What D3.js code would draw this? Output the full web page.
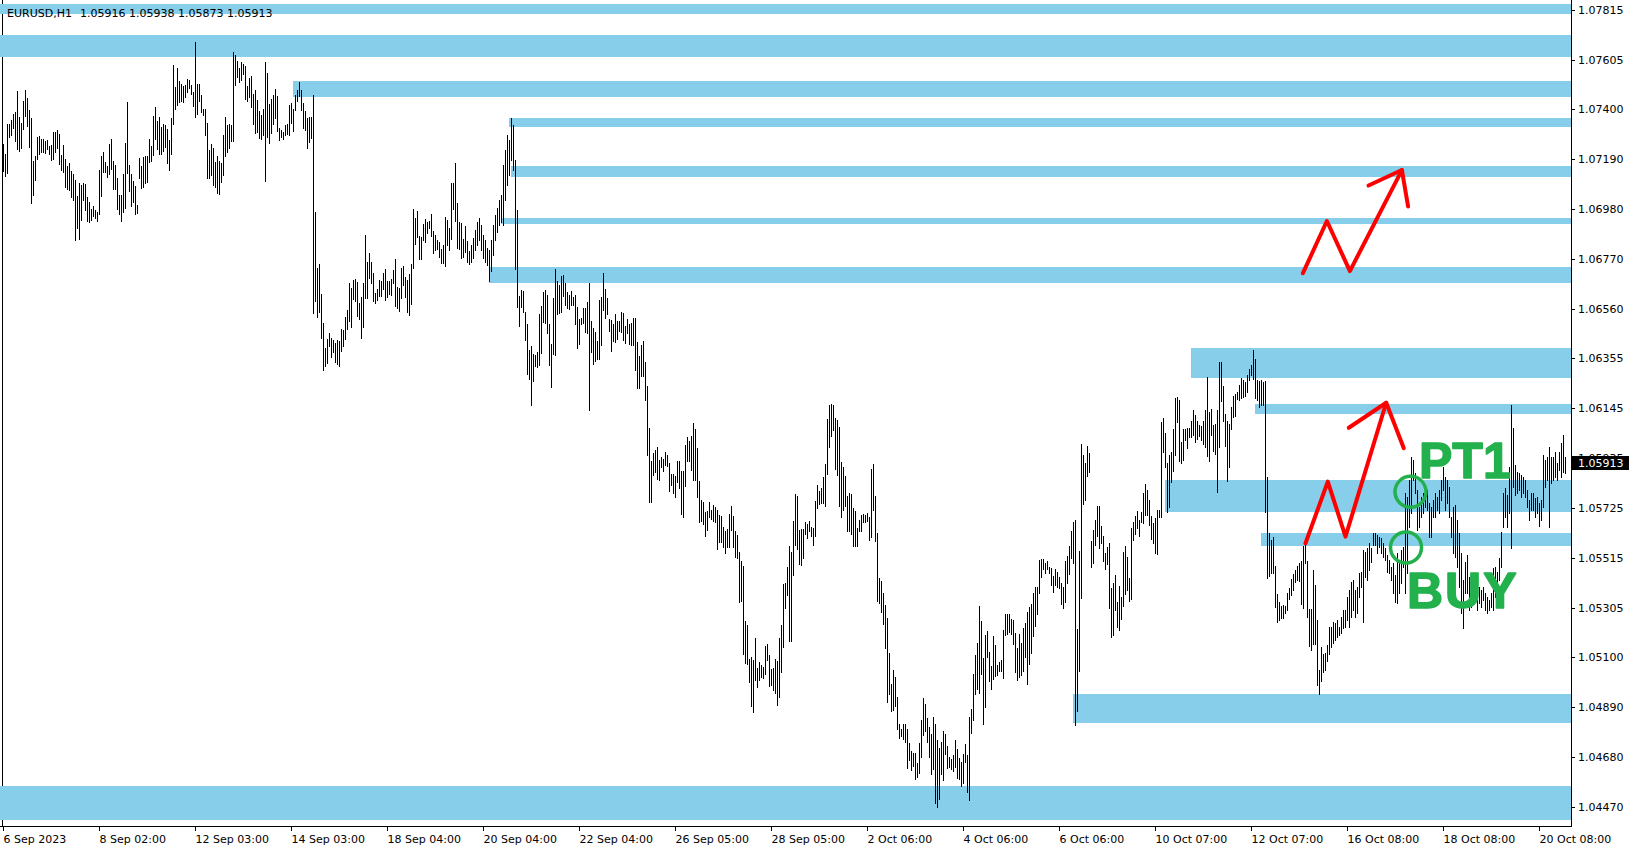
<!DOCTYPE html>
<html><head><meta charset="utf-8">
<script src="https://cdn.jsdelivr.net/npm/d3@7"></script>
<style>html,body{margin:0;padding:0;background:#fff;overflow:hidden}</style>
</head><body>
<svg id="chart" width="1635" height="850"></svg>
<script>
// ---------- data ----------
const symbol = "EURUSD,H1";
const lastOHLC = ["1.05916", "1.05938", "1.05873", "1.05913"];
const lastClose = 1.05913;

const timeLabels = ["6 Sep 2023","8 Sep 02:00","12 Sep 03:00","14 Sep 03:00","18 Sep 04:00","20 Sep 04:00","22 Sep 04:00","26 Sep 05:00","28 Sep 05:00","2 Oct 06:00","4 Oct 06:00","6 Oct 06:00","10 Oct 07:00","12 Oct 07:00","16 Oct 08:00","18 Oct 08:00","20 Oct 08:00"];
const barsPerTimeLabel = 48;
const priceLabels = ["1.07815","1.07605","1.07400","1.07190","1.06980","1.06770","1.06560","1.06355","1.06145","1.05935","1.05725","1.05515","1.05305","1.05100","1.04890","1.04680","1.04470"];

const barHigh = [
1.07252,1.07210,1.07336,1.07336,1.07353,1.07378,1.07387,1.07475,1.07366,1.07340,
1.07433,1.07479,1.07445,1.07395,1.07361,1.07181,1.07202,1.07282,1.07286,1.07273,
1.07273,1.07265,1.07269,1.07244,1.07248,1.07303,1.07303,1.07311,1.07294,1.07206,
1.07248,1.07189,1.07160,1.07172,1.07139,1.07126,1.07101,1.07034,1.07088,1.07080,
1.07088,1.07084,1.07030,1.07009,1.06979,1.06992,1.06975,1.06967,1.07143,1.07202,
1.07219,1.07177,1.07160,1.07252,1.07273,1.07181,1.07164,1.07109,1.07038,1.07038,
1.07126,1.07256,1.07429,1.07164,1.07126,1.07097,1.07076,1.06996,1.07193,1.07160,
1.07198,1.07202,1.07202,1.07273,1.07244,1.07370,1.07408,1.07349,1.07366,1.07324,
1.07336,1.07332,1.07315,1.07269,1.07361,1.07584,1.07492,1.07571,1.07517,1.07504,
1.07496,1.07500,1.07525,1.07521,1.07500,1.07471,1.07681,1.07504,1.07504,1.07458,
1.07399,1.07399,1.07340,1.07227,1.07252,1.07235,1.07177,1.07202,1.07181,1.07172,
1.07290,1.07366,1.07332,1.07336,1.07332,1.07639,1.07626,1.07601,1.07571,1.07597,
1.07588,1.07580,1.07496,1.07529,1.07538,1.07462,1.07479,1.07437,1.07391,1.07374,
1.07399,1.07597,1.07550,1.07420,1.07441,1.07458,1.07483,1.07454,1.07319,1.07311,
1.07303,1.07332,1.07336,1.07416,1.07424,1.07399,1.07458,1.07479,1.07513,1.07479,
1.07424,1.07391,1.07361,1.07366,1.07366,1.07458,1.06967,1.06731,1.06748,1.06622,
1.06500,1.06395,1.06433,1.06458,1.06437,1.06429,1.06416,1.06429,1.06425,1.06475,
1.06471,1.06526,1.06555,1.06668,1.06647,1.06681,1.06685,1.06673,1.06584,1.06610,
1.06668,1.06870,1.06757,1.06794,1.06757,1.06710,1.06626,1.06643,1.06681,1.06677,
1.06710,1.06727,1.06677,1.06677,1.06685,1.06723,1.06769,1.06652,1.06647,1.06731,
1.06740,1.06694,1.06681,1.06706,1.06748,1.06979,1.06941,1.06971,1.06866,1.06862,
1.06916,1.06937,1.06925,1.06929,1.06958,1.06887,1.06870,1.06849,1.06841,1.06811,
1.06828,1.06946,1.06933,1.06899,1.07088,1.07088,1.07172,1.07004,1.06925,1.06920,
1.06853,1.06908,1.06845,1.06803,1.06828,1.06857,1.06891,1.06925,1.06941,1.06912,
1.06870,1.06849,1.06815,1.06807,1.06849,1.06912,1.06954,1.06983,1.07017,1.07038,
1.07164,1.07227,1.07290,1.07269,1.07361,1.07332,1.07185,1.06975,1.06614,1.06639,
1.06635,1.06547,1.06496,1.06387,1.06404,1.06370,1.06366,1.06379,1.06538,1.06572,
1.06631,1.06639,1.06618,1.06496,1.06412,1.06605,1.06727,1.06677,1.06660,1.06698,
1.06702,1.06668,1.06631,1.06618,1.06635,1.06610,1.06618,1.06568,1.06517,1.06521,
1.06563,1.06563,1.06589,1.06668,1.06509,1.06479,1.06463,1.06425,1.06597,1.06610,
1.06710,1.06643,1.06605,1.06517,1.06513,1.06496,1.06538,1.06509,1.06509,1.06547,
1.06542,1.06488,1.06517,1.06496,1.06500,1.06521,1.06521,1.06421,1.06362,1.06408,
1.06425,1.06337,1.06236,1.06059,1.05921,1.05954,1.05967,1.05980,1.05925,1.05938,
1.05929,1.05959,1.05946,1.05912,1.05866,1.05866,1.05858,1.05921,1.05921,1.05879,
1.05879,1.05988,1.06022,1.06005,1.06026,1.06080,1.06055,1.05975,1.05837,1.05757,
1.05749,1.05707,1.05711,1.05749,1.05715,1.05736,1.05728,1.05715,1.05694,1.05690,
1.05644,1.05627,1.05635,1.05698,1.05732,1.05690,1.05627,1.05610,1.05539,1.05501,
1.05480,1.05249,1.05232,1.05089,1.05098,1.05085,1.05177,1.05051,1.05077,1.05064,
1.05056,1.05144,1.05152,1.05106,1.05047,1.05051,1.05089,1.05081,1.05177,1.05232,
1.05404,1.05408,1.05476,1.05564,1.05539,1.05669,1.05782,1.05774,1.05631,1.05635,
1.05635,1.05665,1.05656,1.05669,1.05644,1.05640,1.05753,1.05820,1.05795,1.05807,
1.05854,1.05908,1.06097,1.06156,1.06160,1.06156,1.06101,1.06093,1.06064,1.05917,
1.05896,1.05858,1.05774,1.05786,1.05782,1.05723,1.05711,1.05640,1.05673,1.05694,
1.05698,1.05694,1.05703,1.05686,1.05887,1.05908,1.05774,1.05618,1.05429,1.05417,
1.05366,1.05316,1.05261,1.05114,1.04984,1.05043,1.05014,1.04930,1.04816,1.04795,
1.04816,1.04816,1.04795,1.04736,1.04703,1.04694,1.04694,1.04652,1.04736,1.04833,
1.04925,1.04900,1.04841,1.04804,1.04774,1.04846,1.04816,1.04749,1.04715,1.04741,
1.04787,1.04774,1.04724,1.04678,1.04669,1.04686,1.04749,1.04711,1.04673,1.04657,
1.04690,1.04732,1.04686,1.04846,1.04879,1.05026,1.05106,1.05156,1.05312,1.05249,
1.05093,1.05190,1.05207,1.05119,1.05060,1.05186,1.05148,1.05064,1.05077,1.05085,
1.05211,1.05278,1.05278,1.05278,1.05257,1.05253,1.05198,1.05135,1.05194,1.05156,
1.05219,1.05240,1.05287,1.05308,1.05320,1.05366,1.05392,1.05392,1.05505,1.05509,
1.05509,1.05492,1.05501,1.05476,1.05471,1.05438,1.05467,1.05455,1.05434,1.05408,
1.05392,1.05501,1.05522,1.05564,1.05627,1.05665,1.05673,1.05215,1.05543,1.05992,
1.05946,1.05912,1.05984,1.05954,1.05585,1.05631,1.05673,1.05732,1.05732,1.05648,
1.05606,1.05534,1.05560,1.05576,1.05387,1.05408,1.05442,1.05329,1.05396,1.05350,
1.05539,1.05564,1.05518,1.05429,1.05640,1.05665,1.05690,1.05711,1.05673,1.05707,
1.05786,1.05824,1.05799,1.05757,1.05690,1.05660,1.05681,1.05715,1.05715,1.06085,
1.06101,1.06038,1.05912,1.05946,1.05959,1.06055,1.06185,1.06190,1.06177,1.06001,
1.06055,1.06055,1.06059,1.06059,1.06089,1.06135,1.06114,1.06089,1.06072,1.06068,
1.06089,1.06135,1.06274,1.06127,1.06139,1.06072,1.06076,1.06135,1.06337,1.06337,
1.06236,1.06118,1.06089,1.06076,1.06148,1.06194,1.06202,1.06211,1.06240,1.06269,
1.06261,1.06253,1.06282,1.06307,1.06324,1.06387,1.06349,1.06261,1.06257,1.06261,
1.06253,1.06257,1.05854,1.05618,1.05589,1.05602,1.05480,1.05362,1.05329,1.05312,
1.05316,1.05312,1.05366,1.05387,1.05425,1.05446,1.05463,1.05480,1.05492,1.05501,
1.05564,1.05572,1.05501,1.05299,1.05299,1.05463,1.05400,1.05253,1.05043,1.05140,
1.05110,1.05114,1.05148,1.05224,1.05224,1.05245,1.05240,1.05253,1.05224,1.05266,
1.05295,1.05295,1.05350,1.05379,1.05413,1.05421,1.05379,1.05392,1.05450,1.05455,
1.05547,1.05539,1.05555,1.05576,1.05555,1.05618,1.05618,1.05610,1.05602,1.05597,
1.05576,1.05555,1.05526,1.05505,1.05476,1.05492,1.05442,1.05534,1.05505,1.05547,
1.05560,1.05786,1.05770,1.05841,1.05938,1.05925,1.05870,1.05799,1.05728,1.05770,
1.05786,1.05770,1.05799,1.05744,1.05728,1.05757,1.05786,1.05770,1.05799,1.05841,
1.05896,1.05854,1.05841,1.05812,1.05686,1.05728,1.05736,1.05673,1.05618,1.05534,
1.05421,1.05497,1.05526,1.05434,1.05408,1.05421,1.05392,1.05379,1.05392,1.05379,
1.05392,1.05366,1.05350,1.05337,1.05366,1.05471,1.05476,1.05455,1.05513,1.05622,
1.05786,1.05807,1.05778,1.05896,1.06156,1.06059,1.05904,1.05875,1.05870,1.05862,
1.05854,1.05841,1.05799,1.05757,1.05786,1.05786,1.05766,1.05770,1.05744,1.05757,
1.05946,1.05925,1.05938,1.05980,1.05938,1.05938,1.05959,1.05912,1.05959,1.05997,
1.06030,1.05938];

const barLow = [
1.07139,1.07118,1.07130,1.07282,1.07290,1.07319,1.07265,1.07231,1.07223,1.07235,
1.07315,1.07370,1.07328,1.07240,1.07004,1.07038,1.07101,1.07189,1.07210,1.07219,
1.07219,1.07214,1.07231,1.07210,1.07185,1.07189,1.07219,1.07235,1.07168,1.07143,
1.07135,1.07072,1.07063,1.07059,1.07030,1.07017,1.06849,1.06899,1.06853,1.06933,
1.07017,1.06975,1.06929,1.06925,1.06933,1.06950,1.06941,1.06929,1.06958,1.07034,
1.07135,1.07135,1.07114,1.07126,1.07147,1.07063,1.07063,1.06979,1.06958,1.06929,
1.06967,1.06983,1.07130,1.07055,1.06992,1.07009,1.06958,1.06962,1.07109,1.07067,
1.07072,1.07088,1.07093,1.07177,1.07181,1.07206,1.07273,1.07231,1.07210,1.07210,
1.07223,1.07240,1.07172,1.07143,1.07210,1.07336,1.07399,1.07416,1.07429,1.07433,
1.07429,1.07450,1.07471,1.07487,1.07462,1.07412,1.07366,1.07378,1.07433,1.07387,
1.07374,1.07290,1.07109,1.07109,1.07122,1.07080,1.07072,1.07046,1.07042,1.07093,
1.07122,1.07202,1.07219,1.07235,1.07265,1.07265,1.07500,1.07534,1.07513,1.07521,
1.07546,1.07441,1.07433,1.07450,1.07408,1.07336,1.07298,1.07303,1.07277,1.07273,
1.07290,1.07097,1.07282,1.07256,1.07298,1.07336,1.07361,1.07307,1.07269,1.07282,
1.07273,1.07290,1.07294,1.07290,1.07340,1.07307,1.07395,1.07433,1.07454,1.07395,
1.07319,1.07311,1.07235,1.07261,1.07277,1.06542,1.06593,1.06526,1.06547,1.06437,
1.06303,1.06320,1.06332,1.06404,1.06358,1.06379,1.06337,1.06328,1.06320,1.06383,
1.06404,1.06433,1.06475,1.06509,1.06484,1.06601,1.06593,1.06530,1.06517,1.06437,
1.06484,1.06605,1.06605,1.06689,1.06668,1.06593,1.06584,1.06597,1.06614,1.06614,
1.06643,1.06597,1.06610,1.06622,1.06618,1.06668,1.06572,1.06563,1.06551,1.06605,
1.06660,1.06610,1.06547,1.06534,1.06580,1.06731,1.06832,1.06862,1.06769,1.06769,
1.06849,1.06841,1.06878,1.06899,1.06866,1.06794,1.06807,1.06811,1.06778,1.06752,
1.06752,1.06740,1.06828,1.06807,1.06853,1.06979,1.06929,1.06815,1.06811,1.06773,
1.06778,1.06799,1.06757,1.06748,1.06757,1.06773,1.06807,1.06828,1.06849,1.06807,
1.06773,1.06757,1.06744,1.06677,1.06719,1.06786,1.06849,1.06883,1.06912,1.06925,
1.06912,1.07017,1.07080,1.07122,1.07185,1.07143,1.06727,1.06568,1.06488,1.06568,
1.06547,1.06429,1.06286,1.06265,1.06156,1.06257,1.06320,1.06316,1.06324,1.06374,
1.06505,1.06500,1.06458,1.06324,1.06232,1.06370,1.06366,1.06538,1.06542,1.06547,
1.06614,1.06576,1.06563,1.06559,1.06576,1.06576,1.06496,1.06395,1.06412,1.06496,
1.06500,1.06463,1.06458,1.06135,1.06379,1.06328,1.06341,1.06349,1.06349,1.06408,
1.06555,1.06521,1.06538,1.06467,1.06383,1.06425,1.06421,1.06433,1.06467,1.06463,
1.06429,1.06416,1.06458,1.06412,1.06408,1.06408,1.06303,1.06227,1.06227,1.06278,
1.06278,1.06177,1.05946,1.05749,1.05749,1.05862,1.05875,1.05845,1.05841,1.05896,
1.05879,1.05904,1.05900,1.05795,1.05820,1.05786,1.05770,1.05833,1.05807,1.05698,
1.05686,1.05816,1.05921,1.05921,1.05883,1.05841,1.05841,1.05770,1.05665,1.05669,
1.05656,1.05606,1.05631,1.05686,1.05677,1.05669,1.05665,1.05551,1.05581,1.05581,
1.05560,1.05534,1.05560,1.05560,1.05631,1.05560,1.05518,1.05513,1.05329,1.05333,
1.05110,1.05072,1.05068,1.04993,1.04892,1.04867,1.05001,1.04972,1.05001,1.05014,
1.05009,1.05026,1.05085,1.04976,1.04980,1.04959,1.04946,1.04896,1.04930,1.05035,
1.05140,1.05303,1.05358,1.05165,1.05165,1.05442,1.05568,1.05551,1.05488,1.05484,
1.05513,1.05614,1.05597,1.05627,1.05606,1.05568,1.05606,1.05723,1.05740,1.05744,
1.05744,1.05732,1.05866,1.05980,1.06026,1.06051,1.05887,1.05862,1.05732,1.05686,
1.05715,1.05732,1.05627,1.05627,1.05614,1.05564,1.05564,1.05564,1.05627,1.05627,
1.05665,1.05665,1.05669,1.05589,1.05602,1.05715,1.05585,1.05333,1.05324,1.05287,
1.05236,1.05135,1.04909,1.04942,1.04871,1.04875,1.04892,1.04795,1.04757,1.04766,
1.04753,1.04741,1.04631,1.04665,1.04623,1.04640,1.04585,1.04594,1.04610,1.04678,
1.04770,1.04787,1.04741,1.04678,1.04606,1.04627,1.04484,1.04468,1.04501,1.04606,
1.04581,1.04690,1.04631,1.04636,1.04627,1.04619,1.04636,1.04589,1.04585,1.04556,
1.04568,1.04657,1.04531,1.04497,1.04778,1.04833,1.04942,1.04963,1.04946,1.05026,
1.04816,1.04888,1.05098,1.04997,1.04963,1.05005,1.05018,1.05022,1.05039,1.05039,
1.05009,1.05190,1.05194,1.05202,1.05194,1.05152,1.05035,1.05001,1.05014,1.05022,
1.05039,1.05098,1.04984,1.05068,1.05114,1.05186,1.05228,1.05278,1.05366,1.05434,
1.05467,1.05450,1.05467,1.05450,1.05400,1.05370,1.05400,1.05392,1.05387,1.05320,
1.05303,1.05329,1.05408,1.05446,1.05513,1.05492,1.04812,1.04871,1.05039,1.05345,
1.05740,1.05757,1.05858,1.05875,1.05476,1.05492,1.05568,1.05606,1.05555,1.05576,
1.05501,1.05467,1.05488,1.05303,1.05182,1.05190,1.05295,1.05224,1.05211,1.05257,
1.05312,1.05362,1.05379,1.05333,1.05341,1.05589,1.05614,1.05640,1.05606,1.05665,
1.05660,1.05694,1.05694,1.05652,1.05593,1.05576,1.05534,1.05530,1.05686,1.05686,
1.05959,1.05896,1.05707,1.05728,1.05833,1.05879,1.05946,1.06085,1.05921,1.05912,
1.05925,1.06009,1.05975,1.06022,1.06022,1.06030,1.06001,1.06013,1.06026,1.06009,
1.05992,1.05980,1.05942,1.05921,1.06030,1.05963,1.05950,1.05791,1.05980,1.06173,
1.06089,1.05984,1.05837,1.05896,1.06055,1.06106,1.06110,1.06181,1.06177,1.06185,
1.06190,1.06194,1.06211,1.06261,1.06282,1.06265,1.06185,1.06177,1.06148,1.06156,
1.06156,1.05707,1.05429,1.05438,1.05450,1.05450,1.05308,1.05245,1.05253,1.05261,
1.05261,1.05282,1.05295,1.05341,1.05358,1.05379,1.05413,1.05421,1.05417,1.05320,
1.05303,1.05492,1.05266,1.05144,1.05127,1.05152,1.05152,1.04980,1.04942,1.04997,
1.05035,1.05043,1.05081,1.05110,1.05140,1.05156,1.05169,1.05182,1.05190,1.05198,
1.05219,1.05224,1.05253,1.05224,1.05266,1.05295,1.05266,1.05282,1.05350,1.05392,
1.05245,1.05434,1.05421,1.05463,1.05497,1.05568,1.05568,1.05534,1.05560,1.05534,
1.05518,1.05505,1.05455,1.05450,1.05421,1.05366,1.05329,1.05324,1.05366,1.05408,
1.05476,1.05366,1.05450,1.05644,1.05702,1.05841,1.05786,1.05631,1.05644,1.05686,
1.05702,1.05728,1.05715,1.05602,1.05602,1.05686,1.05686,1.05715,1.05702,1.05757,
1.05799,1.05715,1.05744,1.05686,1.05602,1.05534,1.05518,1.05476,1.05392,1.05282,
1.05219,1.05366,1.05366,1.05295,1.05308,1.05329,1.05329,1.05295,1.05324,1.05308,
1.05337,1.05295,1.05282,1.05295,1.05308,1.05295,1.05350,1.05392,1.05421,1.05476,
1.05644,1.05686,1.05644,1.05702,1.05555,1.05812,1.05778,1.05786,1.05799,1.05770,
1.05786,1.05770,1.05728,1.05673,1.05715,1.05715,1.05686,1.05702,1.05648,1.05673,
1.05728,1.05812,1.05841,1.05644,1.05828,1.05841,1.05854,1.05841,1.05883,1.05854,
1.05875,1.05873];

// supply/demand zones (price top, price bottom, first bar index; -1.5 = from the left edge)
const zoneTop      = [1.07840, 1.07710, 1.07517, 1.07362, 1.07160, 1.06942, 1.06736, 1.06396, 1.06161, 1.05842, 1.05619, 1.04943, 1.04557];
const zoneBottom   = [1.07798, 1.07618, 1.07450, 1.07324, 1.07114, 1.06917, 1.06669, 1.06270, 1.06119, 1.05707, 1.05565, 1.04821, 1.04414];
const zoneStartBar = [-1.5, -1.5, 145, 253, 254, 249, 243, 594, 626, 581, 629, 535, -1.5];

// hand-drawn annotations in (bar index, price)
const upperArrow     = [[649.7,1.06710],[661.7,1.06929],[673.2,1.06719],[699.2,1.07143]];
const upperArrowHead = [[682.5,1.07078],[699.2,1.07143],[702.3,1.06990]];
const lowerArrow     = [[651,1.05576],[662.15,1.05835],[671,1.05604],[691.35,1.06166]];
const lowerArrowHead = [[672.65,1.06061],[691.35,1.06166],[700.15,1.05975]];
const circleMarks    = [[703.5,1.05792],[701.25,1.05558]];
const textLabels     = ["PT1", "BUY"];
const textBars       = [708, 702];
const textPrices     = [1.05850, 1.05304];

// ---------- drawing ----------
const W = 1635, H = 850;
const plotRight = 1571, plotBottom = 826;
const svg = d3.select("#chart").attr("shape-rendering","crispEdges");

const x = d3.scaleLinear().domain([0, barHigh.length - 1]).range([3, 3 + 2*(barHigh.length - 1)]);
const y = d3.scaleLinear().domain([1.04389, 1.07857]).range([plotBottom, 0]);

svg.append("rect").attr("width",W).attr("height",H).attr("fill","#fff");

// left frame line (under the zones)
svg.append("line").attr("x1",2.5).attr("x2",2.5).attr("y1",0).attr("y2",plotBottom)
  .attr("stroke","#000");

// zones
svg.append("g").selectAll("rect").data(zoneTop).join("rect")
  .attr("x",(d,i)=>Math.round(x(zoneStartBar[i])))
  .attr("width",(d,i)=>plotRight - Math.round(x(zoneStartBar[i])))
  .attr("y",d=>Math.round(y(d)))
  .attr("height",(d,i)=>Math.round(y(zoneBottom[i])) - Math.round(y(d)))
  .attr("fill","#87CEEB");

// bars (high-low)
svg.append("g").selectAll("rect").data(barHigh).join("rect")
  .attr("x",(d,i)=>Math.round(x(i)))
  .attr("width",1)
  .attr("y",d=>Math.round(y(d)))
  .attr("height",(d,i)=>Math.max(1, Math.round(y(barLow[i])) - Math.round(y(d)) + 1))
  .attr("fill","#000");

// frame bottom/right
svg.append("path").attr("d",`M0,${plotBottom+0.5}H${plotRight+0.5}V0`)
  .attr("fill","none").attr("stroke","#000");

// time axis
const xAxis = d3.axisBottom(x)
  .tickValues(timeLabels.map((t,i)=>i*barsPerTimeLabel))
  .tickFormat((d,i)=>timeLabels[i])
  .tickSize(4).tickPadding(4);
const gx = svg.append("g").attr("transform",`translate(0,${plotBottom+1})`).call(xAxis);
gx.select(".domain").remove();
gx.selectAll("text").attr("text-anchor","start").attr("x",0)
  .attr("font-family","DejaVu Sans").attr("font-size","11px").attr("fill","#000");
gx.selectAll("line").attr("stroke","#000");

// price axis
const yAxis = d3.axisRight(y)
  .tickValues(priceLabels.map(Number))
  .tickFormat((d,i)=>priceLabels[i])
  .tickSize(3).tickPadding(3);
const gy = svg.append("g").attr("transform",`translate(${plotRight+1},0)`).call(yAxis);
gy.select(".domain").remove();
gy.selectAll("text").attr("font-family","DejaVu Sans").attr("font-size","11px")
  .attr("fill","#000").attr("dy","0.36em");
gy.selectAll("line").attr("stroke","#000");

// current price label
const yc = y(lastClose);
svg.append("rect").attr("x",plotRight+1).attr("y",Math.round(yc)-7).attr("width",57).attr("height",14).attr("fill","#000");
svg.append("text").attr("x",plotRight+7).attr("y",yc).attr("dy","0.36em")
  .attr("font-family","DejaVu Sans").attr("font-size","11px").attr("fill","#fff").text(lastOHLC[3]);

// annotations
const ann = svg.append("g").attr("shape-rendering","auto");
const line = d3.line().x(d=>x(d[0])+0.5).y(d=>y(d[1]));
[upperArrow, upperArrowHead, lowerArrow, lowerArrowHead].forEach(pts=>{
  ann.append("path").attr("d",line(pts)).attr("fill","none")
    .attr("stroke","#FF0000").attr("stroke-width",4)
    .attr("stroke-linejoin","round").attr("stroke-linecap","round");
});
ann.selectAll("circle").data(circleMarks).join("circle")
  .attr("cx",d=>x(d[0])+0.5).attr("cy",d=>y(d[1])).attr("r",15.5)
  .attr("fill","none").attr("stroke","#22B14C").attr("stroke-width",3.5);
ann.selectAll("text.mark").data(textLabels).join("text")
  .attr("class","mark")
  .attr("x",(d,i)=>x(textBars[i]))
  .attr("y",(d,i)=>y(textPrices[i]))
  .attr("font-family","Liberation Sans, Arial, sans-serif").attr("font-weight","bold")
  .attr("font-size","50px").attr("fill","#22B14C")
  .attr("stroke","#22B14C").attr("stroke-width",1.5).attr("stroke-linejoin","round")
  .attr("letter-spacing",d=>d==="BUY"?"2px":"0px")
  .text(d=>d);

// header
const hdr = svg.append("g").attr("font-family","DejaVu Sans").attr("font-size","11px").attr("fill","#000");
hdr.append("text").attr("x",7).attr("y",17).text(symbol);
hdr.append("text").attr("x",80).attr("y",17).text(lastOHLC.join(" "));
</script>
</body></html>
